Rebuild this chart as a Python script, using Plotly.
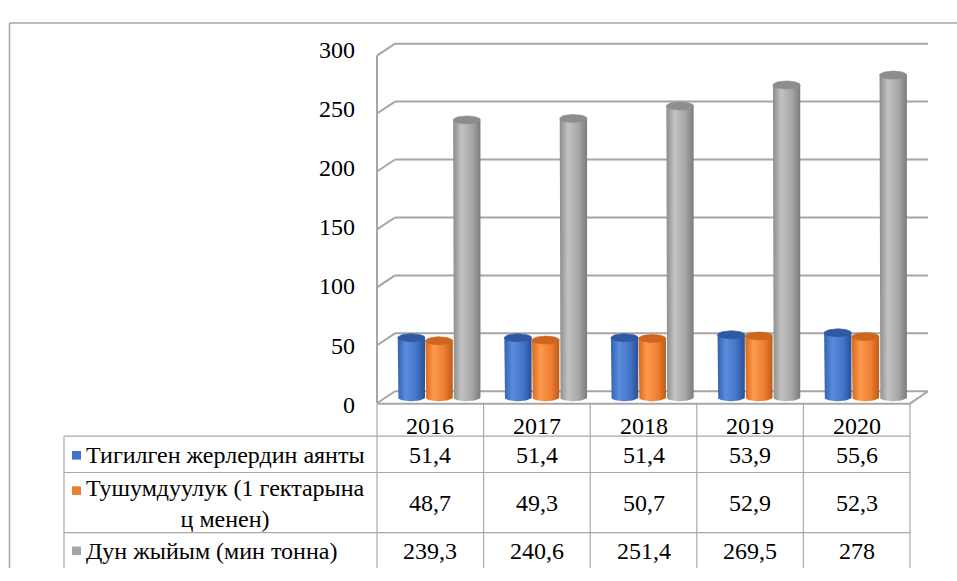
import numpy as np
import plotly.graph_objects as go

# ---------------- data ----------------
years = ["2016", "2017", "2018", "2019", "2020"]
series_names = ["Тигилген жерлердин аянты",
                "Тушумдуулук (1 гектарына<br>ц менен)",
                "Дун жыйым (мин тонна)"]
area = [51.4, 51.4, 51.4, 53.9, 55.6]
yield_ha = [48.7, 49.3, 50.7, 52.9, 52.3]
harvest = [239.3, 240.6, 251.4, 269.5, 278]
y_ticks = [0, 50, 100, 150, 200, 250, 300]

series_values = [area, yield_ha, harvest]

# ---------------- styling / geometry ----------------
W, H = 957, 581
FONT = "Liberation Serif"
FS = 24
GRID = "#a6a6a6"
TABLE_LINE = "#a9a9a9"

flat_colors = ["#4472C4", "#ED7D31", "#A5A5A5"]
body_scales = [
    [[0, "#3461b0"], [0.3, "#5a8ddd"], [0.7, "#4373c6"], [1, "#2a4f95"]],
    [[0, "#d8691d"], [0.3, "#fc9a4d"], [0.7, "#ee7e31"], [1, "#bd5b18"]],
    [[0, "#8c8c8c"], [0.3, "#c2c2c2"], [0.7, "#a6a6a6"], [1, "#7b7b7b"]],
]
cap_colors = ["#2f5aa3", "#cf6620", "#8d8d8d"]


def px(x):
    return x / W


def py(y):
    return 1 - y / H


PPU = 1.213               # pixels per value unit
FRONT_X0, FRONT_X1 = 377, 910
FRONT_Y0 = 408.5          # pixel y of value 0 on front plane
DX, DY = 18, 12.5         # depth offset of back wall
BAR_Y0 = FRONT_Y0 - DY / 2
BAR_X0 = FRONT_X0 + DX / 2
COLW = (FRONT_X1 - FRONT_X0) / len(years)

Y_MIN = -6
Y_MAX = 300
bar_dom = [py(BAR_Y0 + (-Y_MIN) * PPU), py(BAR_Y0 - Y_MAX * PPU)]
front_dom = [py(FRONT_Y0), py(FRONT_Y0 - Y_MAX * PPU)]

RY = 4.2 / PPU            # ellipse vertical radius in value units
RX = 0.128                # half bar width in category units
OFFS = [-0.262, -0.002, 0.258]

fig = go.Figure()

t = np.linspace(0, np.pi, 40)
tt = np.linspace(0, 2 * np.pi, 60)
for i in range(len(years)):
    for s in range(3):
        v = series_values[s][i]
        xc = i + OFFS[s]
        x0, x1 = xc - RX, xc + RX
        bx = xc - RX * np.cos(t)
        by = -RY * np.sin(t)
        xs = [x0] + list(bx) + [x1, x0]
        ys = [v] + list(by) + [v, v]
        fig.add_trace(go.Scatter(
            x=xs, y=ys, mode="lines", fill="toself",
            fillgradient=dict(type="horizontal", colorscale=body_scales[s]),
            line=dict(width=0, color="rgba(0,0,0,0)"),
            showlegend=False, hoverinfo="skip"))
        fig.add_trace(go.Scatter(
            x=xc + RX * np.cos(tt), y=v + RY * np.sin(tt),
            mode="lines", fill="toself", fillcolor=cap_colors[s],
            line=dict(width=0.6, color=cap_colors[s]),
            showlegend=False, hoverinfo="skip"))

# dummy trace to carry the front-plane tick axis
fig.add_trace(go.Scatter(x=[None], y=[None], yaxis="y3",
                         showlegend=False, hoverinfo="skip"))

shapes = []


def line(x0, y0, x1, y1, color=GRID, width=2):
    shapes.append(dict(type="line", xref="paper", yref="paper",
                       x0=px(x0), y0=py(y0), x1=px(x1), y1=py(y1),
                       line=dict(color=color, width=width), layer="below"))


for v in y_ticks:
    yf = FRONT_Y0 - v * PPU
    yb = yf - DY
    line(FRONT_X0 + DX, yb, FRONT_X1 + DX, yb)
    line(FRONT_X0, yf, FRONT_X0 + DX, yb)
line(FRONT_X0, FRONT_Y0, FRONT_X0, FRONT_Y0 - Y_MAX * PPU)
line(FRONT_X0, FRONT_Y0 + 0.5, FRONT_X1, FRONT_Y0 + 0.5)
line(FRONT_X1, FRONT_Y0 + 0.5, FRONT_X1 + DX, FRONT_Y0 - DY)

# outer chart border (left and top)
line(9.5, 10.5, 957, 10.5, color="#a6a6a6", width=1.5)
line(9.5, 10.5, 9.5, 581, color="#a6a6a6", width=1.5)

# ---------------- data table ----------------
TBL_X0 = 64
ROW_Y = [443, 481, 544]
for k in range(len(years) + 1):
    x = FRONT_X0 + k * COLW
    line(x, FRONT_Y0 + 1, x, 581, color=TABLE_LINE, width=1.2)
line(TBL_X0, ROW_Y[0], TBL_X0, 581, color=TABLE_LINE, width=1.2)
for y in ROW_Y:
    line(TBL_X0, y, FRONT_X1, y, color=TABLE_LINE, width=1.2)

annotations = []
for k, yr in enumerate(years):
    annotations.append(dict(text=yr, x=px(FRONT_X0 + (k + 0.5) * COLW), y=py(432),
                            xref="paper", yref="paper", showarrow=False,
                            xanchor="center", yanchor="middle",
                            font=dict(family=FONT, size=FS, color="black")))

row_centers = [463, 513, 563]
key_y = [463, 500, 563]
for s in range(3):
    for k in range(len(years)):
        val = series_values[s][k]
        txt = (f"{val:g}").replace(".", ",")
        annotations.append(dict(text=txt, x=px(FRONT_X0 + (k + 0.5) * COLW),
                                y=py(row_centers[s]), xref="paper", yref="paper",
                                showarrow=False, xanchor="center", yanchor="middle",
                                font=dict(family=FONT, size=FS, color="black")))
    annotations.append(dict(text=series_names[s], x=px(84), y=py(row_centers[s]),
                            xref="paper", yref="paper", showarrow=False,
                            xanchor="left", yanchor="middle", align="center",
                            font=dict(family=FONT, size=FS, color="black")))
    shapes.append(dict(type="rect", xref="paper", yref="paper",
                       x0=px(72), x1=px(81), y0=py(key_y[s] + 4.5), y1=py(key_y[s] - 4.5),
                       fillcolor=flat_colors[s], line=dict(width=0)))

fig.update_layout(
    width=W, height=H, autosize=False,
    margin=dict(l=0, r=0, t=0, b=0, pad=0),
    paper_bgcolor="white", plot_bgcolor="rgba(0,0,0,0)",
    showlegend=False,
    xaxis=dict(domain=[px(BAR_X0), px(BAR_X0 + 5 * COLW)], range=[-0.5, 4.5],
               visible=False, fixedrange=True),
    yaxis=dict(domain=bar_dom, range=[Y_MIN, Y_MAX], visible=False, fixedrange=True),
    yaxis3=dict(domain=front_dom, range=[0, Y_MAX], overlaying="y", anchor="free",
                position=px(FRONT_X0), side="left", showgrid=False, zeroline=False,
                showline=False, tickvals=y_ticks, ticks="", ticklabelstandoff=22,
                tickfont=dict(family=FONT, size=FS, color="black")),
    shapes=shapes,
    annotations=annotations,
)

fig.write_html("out.html", config={"responsive": False, "displayModeBar": False},
               post_script="document.body.style.margin='0';document.body.style.padding='0';"
                           "document.body.style.overflow='hidden';")
